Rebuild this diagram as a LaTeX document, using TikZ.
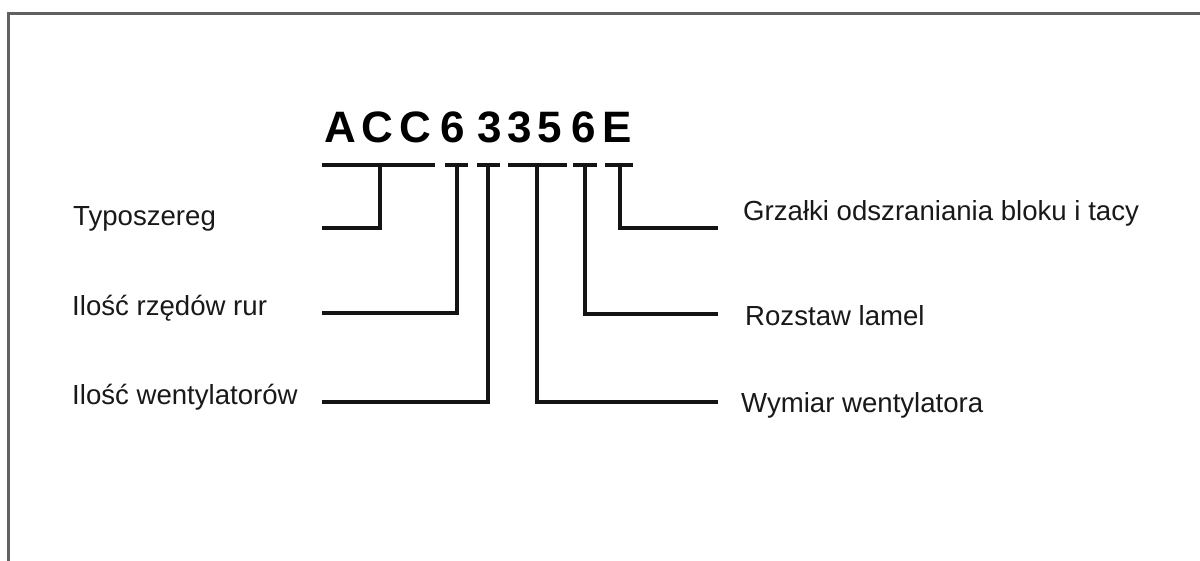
\documentclass[tikz,border=0pt]{standalone}
\usepackage{fontspec}
\setmainfont{Liberation Sans}
\begin{document}
\begin{tikzpicture}[x=1pt,y=-1pt,
  lbl/.style={anchor=base west,inner sep=0pt,font=\fontsize{27.6}{30}\selectfont,text=black!90},
  chr/.style={anchor=base,inner sep=0pt,font=\fontsize{44}{48}\bfseries\selectfont},
  wire/.style={line width=3.1pt,black!92,line cap=butt,line join=miter},
  frame/.style={line width=3.5pt,black!62}]
\useasboundingbox (0,0) rectangle (1200,561);
\fill[white] (0,0) rectangle (1200,561);
% frame
\coordinate (fb) at (8.5,561);
\coordinate (fc) at (8.5,13.5);
\coordinate (fr) at (1200,13.5);
\draw[frame] (fb) -- (fc) -- (fr);
% code characters
\node[chr] (cA) at (340,143) {A};
\node[chr] (cC1) at (377.5,143) {C};
\node[chr] (cC2) at (415,143) {C};
\node[chr] (c6a) at (452.5,143) {6};
\node[chr] (c3a) at (489.5,143) {3};
\node[chr] (c3b) at (519.5,143) {3};
\node[chr] (c5) at (549.5,143) {5};
\node[chr] (c6b) at (584,143) {6};
\node[chr] (cE) at (617,143) {E};
% underline segments
\coordinate (s1a) at (322,165); \coordinate (s1b) at (435,165);
\coordinate (s2a) at (445,165); \coordinate (s2b) at (468,165);
\coordinate (s3a) at (477,165); \coordinate (s3b) at (500,165);
\coordinate (s4a) at (508,165); \coordinate (s4b) at (567,165);
\coordinate (s5a) at (573,165); \coordinate (s5b) at (597,165);
\coordinate (s6a) at (605,165); \coordinate (s6b) at (633,165);
\draw[wire] (s1a) -- (s1b);
\draw[wire] (s2a) -- (s2b);
\draw[wire] (s3a) -- (s3b);
\draw[wire] (s4a) -- (s4b);
\draw[wire] (s5a) -- (s5b);
\draw[wire] (s6a) -- (s6b);
% labels
\node[lbl] (typ) at (73,226) {Typoszereg};
\node[lbl] (rur) at (72,316) {Ilość rzędów rur};
\node[lbl] (wen) at (72,405) {Ilość wentylatorów};
\node[lbl] (grz) at (743,221) {Grzałki odszraniania bloku i tacy};
\node[lbl] (roz) at (745,326) {Rozstaw lamel};
\node[lbl] (wym) at (741,413) {Wymiar wentylatora};
% connector tops and ends
\coordinate (u1) at (380,165); \coordinate (e1) at (322,228);
\coordinate (u2) at (457,165); \coordinate (e2) at (322,313);
\coordinate (u3) at (488,165); \coordinate (e3) at (322,402);
\coordinate (u4) at (537,165); \coordinate (e4) at (718,402);
\coordinate (u5) at (585,165); \coordinate (e5) at (718,314);
\coordinate (u6) at (620,165); \coordinate (e6) at (718,228);
\draw[wire] (u1) |- (e1);
\draw[wire] (u2) |- (e2);
\draw[wire] (u3) |- (e3);
\draw[wire] (u4) |- (e4);
\draw[wire] (u5) |- (e5);
\draw[wire] (u6) |- (e6);
\end{tikzpicture}
\end{document}
